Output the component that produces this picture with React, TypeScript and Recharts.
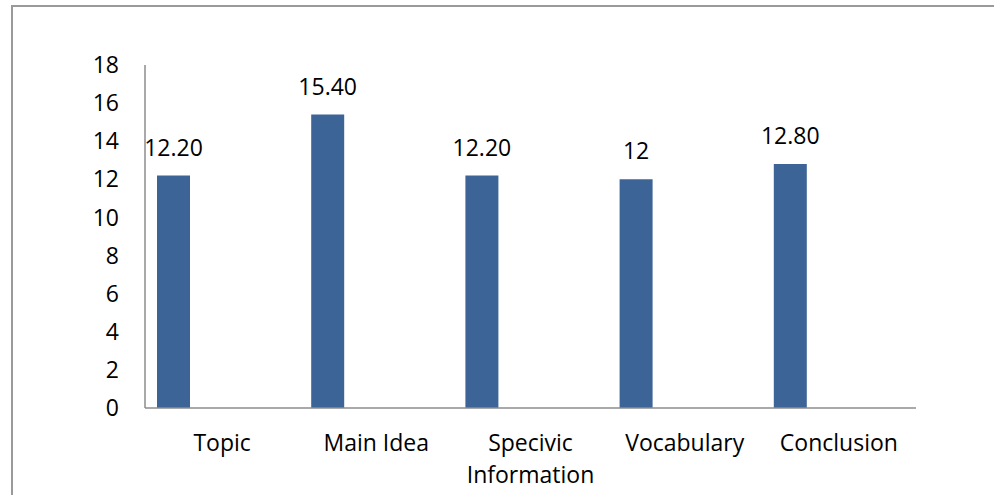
import React from "react";
import { BarChart, Bar, XAxis, YAxis, LabelList } from "recharts";

const categories = ["Topic", "Main Idea", "Specivic Information", "Vocabulary", "Conclusion"];
const scores = [12.2, 15.4, 12.2, 12, 12.8];
const scoreLabels = ["12.20", "15.40", "12.20", "12", "12.80"];
const yTicks = [0, 2, 4, 6, 8, 10, 12, 14, 16, 18];

const data = categories.map((name, i) => ({
  name,
  score: scores[i],
  label: scoreLabels[i],
}));

const FONT = "'Open Sans', sans-serif";
const FONT_SIZE = 23;

// Wrap a category name onto lines of at most 12 characters
const wrapWords = (text: string, max = 12): string[] => {
  const lines: string[] = [];
  let cur = "";
  text.split(" ").forEach((w) => {
    const next = cur ? cur + " " + w : w;
    if (next.length > max && cur) {
      lines.push(cur);
      cur = w;
    } else {
      cur = next;
    }
  });
  if (cur) lines.push(cur);
  return lines;
};

const CategoryTick = (props: any) => {
  const { x, y, payload } = props;
  const lines = wrapWords(String(payload.value));
  return (
    <text x={x} y={y} textAnchor="middle" fontFamily={FONT} fontSize={FONT_SIZE} fill="#000">
      {lines.map((line, i) => (
        <tspan key={i} x={x} dy={i === 0 ? 35 : 32}>
          {line}
        </tspan>
      ))}
    </text>
  );
};

export default function App() {
  return (
    <div style={{ position: "absolute", left: 0, top: 0, width: 994, height: 495, background: "#fff" }}>
      <div
        style={{
          position: "absolute",
          left: 11,
          top: 5,
          width: 994,
          height: 495,
          borderLeft: "2px solid #9a9a9a",
          borderTop: "2px solid #9a9a9a",
          boxSizing: "border-box",
        }}
      />
      <BarChart
        width={994}
        height={495}
        data={data}
        margin={{ top: 65, right: 78, bottom: 0, left: 0 }}
        barCategoryGap={12}
        barGap={0}
        style={{ position: "absolute", left: 0, top: 0 }}
      >
        <XAxis
          dataKey="name"
          axisLine={{ stroke: "#8c8c8c", strokeWidth: 1.5 }}
          tickLine={false}
          tick={<CategoryTick />}
          interval={0}
          height={87}
        />
        <YAxis
          domain={[0, 18]}
          ticks={yTicks}
          width={145}
          axisLine={{ stroke: "#8c8c8c", strokeWidth: 1.5 }}
          tickLine={false}
          tickMargin={20}
          interval={0}
          tick={{ fontFamily: FONT, fontSize: FONT_SIZE, fill: "#000" }}
        />
        <Bar dataKey="score" fill="#3d6496" isAnimationActive={false}>
          <LabelList
            dataKey="label"
            position="top"
            offset={20}
            style={{ fontFamily: FONT, fontSize: FONT_SIZE, fill: "#000" }}
          />
        </Bar>
        <Bar dataKey="spacerA" isAnimationActive={false} />
        <Bar dataKey="spacerB" isAnimationActive={false} />
        <Bar dataKey="spacerC" isAnimationActive={false} />
      </BarChart>
    </div>
  );
}
